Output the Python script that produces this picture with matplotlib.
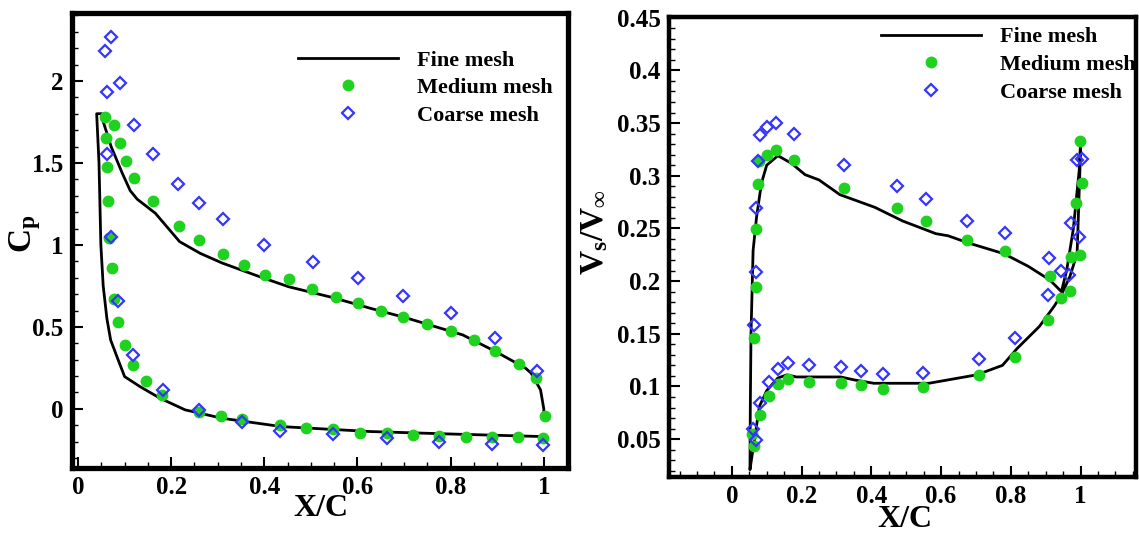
import matplotlib
matplotlib.use('Agg')
import matplotlib.pyplot as plt
from matplotlib.ticker import MultipleLocator, FuncFormatter

plt.rcParams['font.family'] = 'Liberation Serif'
plt.rcParams['font.weight'] = 'bold'
plt.rcParams['axes.labelweight'] = 'bold'
plt.rcParams['mathtext.fontset'] = 'custom'
plt.rcParams['mathtext.rm'] = 'Liberation Serif:bold'
plt.rcParams['mathtext.bf'] = 'Liberation Serif:bold'
plt.rcParams['mathtext.it'] = 'Liberation Serif:bold'

# ---- left panel: pressure coefficient ----
cp_fine_x = [1.0, 0.786, 0.627, 0.437, 0.309, 0.23, 0.176, 0.133, 0.10, 0.086, 0.070, 0.062,
             0.054, 0.049, 0.045, 0.040, 0.051, 0.054, 0.071, 0.095, 0.112, 0.127, 0.166,
             0.218, 0.262, 0.309, 0.389, 0.452, 0.548, 0.627, 0.707, 0.826, 0.897, 0.961,
             0.973, 0.993, 1.0, 1.0]
cp_fine_y = [-0.169, -0.152, -0.138, -0.108, -0.057, -0.006, 0.065, 0.136, 0.197, 0.30, 0.42, 0.55,
             0.75, 1.0, 1.5, 1.80, 1.80, 1.752, 1.60, 1.437, 1.331, 1.279, 1.193,
             1.02, 0.949, 0.89, 0.807, 0.745, 0.678, 0.614, 0.553, 0.451, 0.349, 0.248,
             0.217, 0.116, 0.0, -0.06]

cp_med_x = [0.057, 0.077, 0.059, 0.091, 0.104, 0.062, 0.120, 0.064, 0.162, 0.216, 0.259, 0.311,
            0.357, 0.067, 0.072, 0.402, 0.452, 0.503, 0.554, 0.601, 0.65, 0.697, 0.749, 0.80,
            0.85, 0.896, 0.947, 0.983, 1.002, 0.077, 0.085, 0.101, 0.119, 0.145, 0.18, 0.259,
            0.306, 0.351, 0.434, 0.489, 0.548, 0.605, 0.663, 0.719, 0.776, 0.832, 0.888, 0.945,
            0.999]
cp_med_y = [1.78, 1.73, 1.652, 1.622, 1.512, 1.478, 1.41, 1.265, 1.265, 1.118, 1.03, 0.945,
            0.878, 1.04, 0.862, 0.817, 0.791, 0.73, 0.681, 0.648, 0.60, 0.563, 0.518, 0.476,
            0.42, 0.354, 0.274, 0.187, -0.043, 0.672, 0.532, 0.388, 0.268, 0.170, 0.085, -0.016,
            -0.043, -0.063, -0.10, -0.118, -0.124, -0.144, -0.144, -0.159, -0.165, -0.173, -0.173,
            -0.173, -0.179]

cp_coarse_x = [0.071, 0.058, 0.090, 0.062, 0.121, 0.063, 0.162, 0.214, 0.259, 0.311, 0.40, 0.504,
               0.071, 0.601, 0.697, 0.80, 0.896, 0.985, 0.085, 0.119, 0.182, 0.259, 0.351, 0.434,
               0.548, 0.663, 0.776, 0.888, 0.999]
cp_coarse_y = [2.27, 2.18, 1.99, 1.93, 1.73, 1.553, 1.553, 1.372, 1.258, 1.159, 1.0, 0.894,
               1.05, 0.797, 0.691, 0.587, 0.431, 0.232, 0.659, 0.327, 0.116, -0.006, -0.077, -0.132,
               -0.154, -0.179, -0.203, -0.216, -0.22]

# ---- right panel: surface velocity ratio ----
vs_fine_x = [1.0, 0.996, 0.979, 0.96, 0.945, 0.912, 0.85, 0.78, 0.68, 0.62, 0.585, 0.49, 0.41,
             0.31, 0.25, 0.21, 0.17, 0.132, 0.10, 0.085, 0.071, 0.061, 0.055, 0.053, 0.052,
             0.056, 0.063, 0.079, 0.10, 0.132, 0.158, 0.185, 0.312, 0.354, 0.407, 0.565, 0.702,
             0.776, 0.818, 0.882, 0.924, 0.945, 0.969, 0.99, 0.998, 1.0]
vs_fine_y = [0.333, 0.305, 0.249, 0.21, 0.19, 0.201, 0.214, 0.226, 0.236, 0.243, 0.245, 0.257, 0.27,
             0.282, 0.296, 0.301, 0.312, 0.319, 0.310, 0.293, 0.261, 0.229, 0.15, 0.08, 0.021,
             0.03, 0.045, 0.081, 0.096, 0.108, 0.111, 0.109, 0.109, 0.106, 0.103, 0.103, 0.111,
             0.12, 0.136, 0.157, 0.176, 0.187, 0.204, 0.226, 0.305, 0.331]

vs_med_x = [0.077, 0.10, 0.127, 0.177, 0.076, 0.069, 0.322, 0.473, 0.558, 0.673, 0.784, 0.998,
            1.003, 0.988, 0.973, 0.997, 0.069, 0.065, 0.065, 0.058, 0.080, 0.106, 0.132, 0.160,
            0.22, 0.312, 0.370, 0.434, 0.549, 0.710, 0.813, 0.908, 0.913, 0.943, 0.969]
vs_med_y = [0.314, 0.320, 0.324, 0.315, 0.292, 0.249, 0.288, 0.269, 0.257, 0.239, 0.229, 0.333,
            0.293, 0.274, 0.223, 0.225, 0.194, 0.146, 0.043, 0.055, 0.073, 0.091, 0.102, 0.107,
            0.104, 0.103, 0.101, 0.098, 0.099, 0.111, 0.128, 0.163, 0.205, 0.184, 0.191]

vs_coarse_x = [0.082, 0.10, 0.127, 0.177, 0.076, 0.069, 0.322, 0.473, 0.558, 0.673, 0.784, 0.910,
               0.990, 1.003, 0.973, 0.996, 0.069, 0.063, 0.061, 0.069, 0.082, 0.106, 0.132, 0.160,
               0.22, 0.312, 0.370, 0.434, 0.549, 0.710, 0.813, 0.908, 0.943, 0.968]
vs_coarse_y = [0.339, 0.346, 0.350, 0.340, 0.314, 0.269, 0.310, 0.290, 0.278, 0.257, 0.246, 0.222,
               0.315, 0.316, 0.255, 0.242, 0.209, 0.158, 0.060, 0.049, 0.084, 0.104, 0.117, 0.122,
               0.120, 0.118, 0.115, 0.112, 0.113, 0.126, 0.146, 0.187, 0.210, 0.206]

labels = ['Fine mesh', 'Medium mesh', 'Coarse mesh']
green = '#1fd21f'
blue = '#3535ff'

fig = plt.figure(figsize=(11.39, 5.36), dpi=100)
ax1 = fig.add_axes([0.0632, 0.127, 0.4355, 0.849])
ax2 = fig.add_axes([0.5874, 0.110, 0.4100, 0.858])


def style_axes(ax, spine_w):
    for side in ['left', 'right', 'top', 'bottom']:
        ax.spines[side].set_linewidth(spine_w)
    ax.tick_params(which='both', direction='in', top=False, right=False, width=1.5,
                   labelsize=18, pad=6)
    ax.tick_params(which='major', length=8)
    ax.tick_params(which='minor', length=4.5, width=1.0)
    fmt = FuncFormatter(lambda v, p: f'{v:g}')
    ax.xaxis.set_major_formatter(fmt)
    ax.yaxis.set_major_formatter(fmt)


def draw(ax, fx, fy, mx, my, cx, cy):
    ln, = ax.plot(fx, fy, color='black', lw=2.0, label=labels[0])
    md, = ax.plot(mx, my, 'o', ls='none', color=green, ms=7.5, label=labels[1])
    cs, = ax.plot(cx, cy, 'D', ls='none', mfc='none', mec=blue, mew=1.6, ms=6, label=labels[2])
    return [ln, md, cs]


h1 = draw(ax1, cp_fine_x, cp_fine_y, cp_med_x, cp_med_y, cp_coarse_x, cp_coarse_y)
ax1.set_xlim(-0.013, 1.052)
ax1.set_ylim(-0.36, 2.415)
ax1.xaxis.set_major_locator(MultipleLocator(0.2))
ax1.xaxis.set_minor_locator(MultipleLocator(0.05))
ax1.yaxis.set_major_locator(MultipleLocator(0.5))
ax1.yaxis.set_minor_locator(MultipleLocator(0.1))
style_axes(ax1, 3.8)
ax1.set_xlabel('X/C', fontsize=23, fontweight='bold', va='center')
ax1.xaxis.set_label_coords(0.502, -0.089)
ax1.set_ylabel(r'$\mathbf{C_p}$', fontsize=24, va='center')
ax1.yaxis.set_label_coords(-0.095, 0.515)
ax1.legend(handles=h1, loc='upper left', bbox_to_anchor=(0.456, 0.918), frameon=False,
           fontsize=16, handlelength=4.5, handletextpad=0.85, labelspacing=0.31,
           borderpad=0, borderaxespad=0)

h2 = draw(ax2, vs_fine_x, vs_fine_y, vs_med_x, vs_med_y, vs_coarse_x, vs_coarse_y)
ax2.set_xlim(-0.18, 1.159)
ax2.set_ylim(0.014, 0.4505)
ax2.xaxis.set_major_locator(MultipleLocator(0.2))
ax2.xaxis.set_minor_locator(MultipleLocator(0.05))
ax2.yaxis.set_major_locator(MultipleLocator(0.05))
ax2.yaxis.set_minor_locator(MultipleLocator(0.01))
style_axes(ax2, 3.2)
ax2.set_xlabel('X/C', fontsize=23, fontweight='bold', va='center')
ax2.xaxis.set_label_coords(0.505, -0.092)
ax2.set_ylabel(r'$\mathbf{V_s/V_\infty}$', fontsize=24, va='center')
ax2.yaxis.set_label_coords(-0.16, 0.533)
ax2.legend(handles=h2, loc='upper left', bbox_to_anchor=(0.454, 0.979), frameon=False,
           fontsize=16, handlelength=4.5, handletextpad=0.85, labelspacing=0.33,
           borderpad=0, borderaxespad=0)

fig.savefig('out.png', dpi=100)
